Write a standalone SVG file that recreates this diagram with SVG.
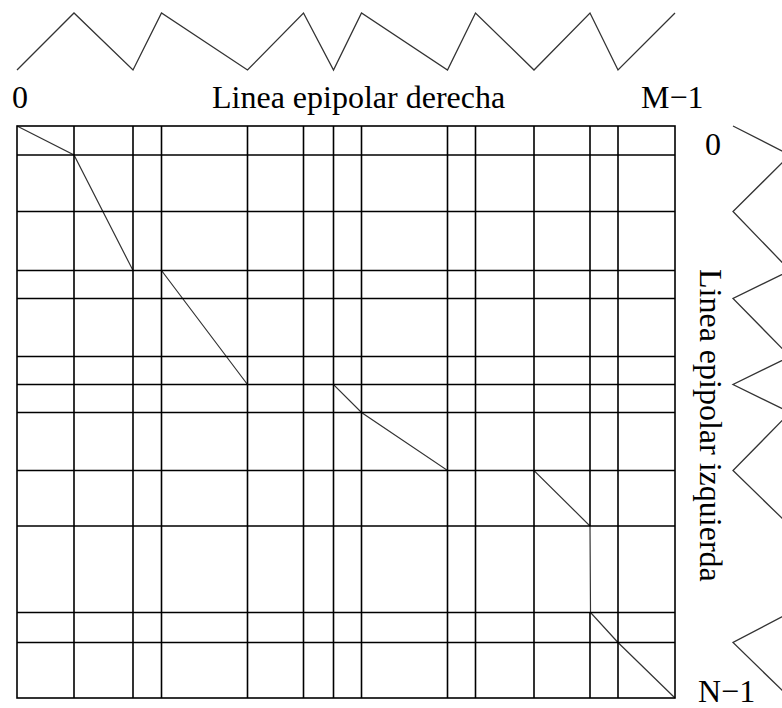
<svg xmlns="http://www.w3.org/2000/svg" width="782" height="708" viewBox="0 0 782 708">
<style>
.grid{stroke:#000;stroke-width:1.6;fill:none}
.zig{stroke:#333;stroke-width:1.3;fill:none;stroke-linejoin:miter}
.path{stroke:#333;stroke-width:1.2;fill:none}
text{font-family:"Liberation Serif","Times New Roman",serif;font-size:32px;fill:#000}
</style>
<rect width="782" height="708" fill="#fff"/>
<g id="top-zigzag">
<polyline class="zig" points="17,70 74,13 133,70 161.5,13 247.5,70 303.5,13 333.5,70 361.5,13 447.5,70 475.5,13 534,70 590,13 618,70 675,13"/>
</g>
<g id="right-zigzag">
<polyline class="zig" points="733,126 790,155 733,211.5 790,270.5 733,298.5 790,356.5 733,384.5 790,412.5 733,470.5 790,526 790,612.5 733,642.5 790,698"/>
</g>
<g id="connectors">
<polyline class="path" points="17,126 74,155 133,270.5 161.5,270.5 247.5,384.5 333.5,384.5 361.5,412.5 447.5,470.5 534,470.5 590,526 590.5,612.5 618,642.5 675,698"/>
</g>
<g id="grid">
<rect class="grid" x="17" y="126" width="658" height="572"/>
<path class="grid" d="M74,126V698M133,126V698M161.5,126V698M247.5,126V698M303.5,126V698M333.5,126V698M361.5,126V698M447.5,126V698M475.5,126V698M534,126V698M590,126V526M590,612.5V698M618,126V698"/>
<path class="grid" d="M17,155H675M17,211.5H675M17,270.5H675M17,298.5H675M17,356.5H675M17,384.5H675M17,412.5H675M17,470.5H675M17,526H675M17,612.5H675M17,642.5H675"/>
</g>
<g id="labels">
<text x="12" y="107.5">0</text>
<text x="212" y="107.5">Linea epipolar derecha</text>
<text x="641" y="107.5">M−1</text>
<text x="705" y="155">0</text>
<text x="698" y="702">N−1</text>
<text transform="translate(700,269) rotate(90)">Linea epipolar izquierda</text>
</g>
</svg>
